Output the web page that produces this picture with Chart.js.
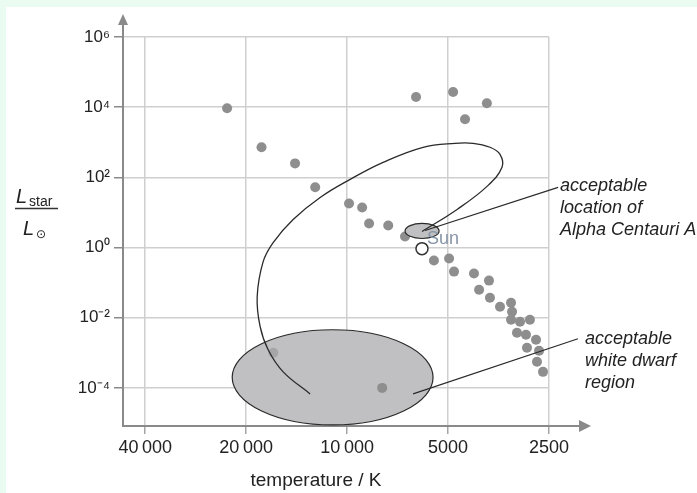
<!DOCTYPE html>
<html><head><meta charset="utf-8">
<script src="https://cdn.jsdelivr.net/npm/chart.js@4/dist/chart.umd.min.js"></script>
<style>html,body{margin:0;padding:0;background:#fff;}#wrap{width:697px;height:493px;}</style>
</head><body><div id="wrap"><canvas id="c" width="697" height="493"></canvas></div>
<script>
// ---- axis ticks ----
const xTickValues = [40000, 20000, 10000, 5000, 2500];
const xTickLabels = ['40\u2009000', '20\u2009000', '10\u2009000', '5000', '2500'];
const yTickValues = [1e-4, 1e-2, 1, 1e2, 1e4, 1e6];
const yTickLabels = ['10\u207B\u2074', '10\u207B\u00B2', '10\u2070', '10\u00B2', '10\u2074', '10\u2076'];
const xRange = [2500, 46600];
const yRange = [8.2e-6, 1e6];

// ---- stars (temperature K, luminosity / L_sun) ----
const starTemps = [22800, 18000, 14300, 12450, 9870, 6230, 4830, 3830, 4450, 9020, 8600, 7540, 6720,
  5510, 4965, 4800, 4185, 3775, 4040, 3750, 3500, 3245, 3222, 3245, 3050, 2850, 3115, 2928, 2733, 2908,
  2677, 2715, 2605, 7860];
const starLums = [9300, 720, 250, 52, 18, 19400, 27000, 13000, 4550, 13.9, 4.85, 4.26, 2.06,
  0.425, 0.485, 0.206, 0.181, 0.114, 0.063, 0.037, 0.0206, 0.0268, 0.0148, 0.00877, 0.00769, 0.00877,
  0.00372, 0.00327, 0.00235, 0.00139, 0.00114, 0.000553, 0.000286, 0.0001];
const obscuredTemps = [16600];
const obscuredLums = [0.001];
const sunTemp = [5980];
const sunLum = [0.93];

// ---- evolutionary track ----
const trackTemps = [5977, 4700, 3826, 3452, 3500, 3748, 4212, 4766, 5936, 7811, 9796, 12035, 14487,
  16620, 17800, 18545, 18170, 17200, 15512, 12893];
const trackLums = [2.87, 12.2, 55.3, 193, 454, 720, 936, 936, 720, 268, 87.7, 26.8, 6.31,
  1.39, 0.398, 0.0398, 0.00553, 0.00122, 0.000286, 0.0000674];

// ---- regions (temperature range, luminosity range) ----
const alphaCenRegionT = [5318, 6717];
const alphaCenRegionL = [1.81, 4.85];
const whiteDwarfRegionT = [5543, 22015];
const whiteDwarfRegionL = [8.8e-6, 0.00454];

// ---- annotations ----
const alphaLabel = ['acceptable', 'location of', 'Alpha Centauri A'];
const alphaLeaderFrom = [2349, 51.8];
const alphaLeaderTo = [5855, 3.06];
const wdLabel = ['acceptable', 'white dwarf', 'region'];
const wdLeaderFrom = [2049, 0.00251];
const wdLeaderTo = [6358, 6.74e-5];

const FONT = '"Liberation Sans", Arial, Helvetica, sans-serif';
const TXT = '#222';

function pts(xs, ys) { return xs.map((x, i) => ({x: x, y: ys[i]})); }
function findLabel(vals, labels, v) {
  for (let i = 0; i < vals.length; i++) if (Math.abs(Math.log10(vals[i]) - Math.log10(v)) < 1e-6) return labels[i];
  return '';
}

function drawRegion(chart, T, L) {
  const xs = chart.scales.x, ys = chart.scales.y, ctx = chart.ctx;
  const x1 = xs.getPixelForValue(T[0]), x2 = xs.getPixelForValue(T[1]);
  const y1 = ys.getPixelForValue(L[0]), y2 = ys.getPixelForValue(L[1]);
  ctx.save();
  ctx.beginPath();
  ctx.ellipse((x1 + x2) / 2, (y1 + y2) / 2, Math.abs(x2 - x1) / 2, Math.abs(y2 - y1) / 2, 0, 0, Math.PI * 2);
  ctx.fillStyle = '#c0c0c2';
  ctx.fill();
  ctx.lineWidth = 1.2;
  ctx.strokeStyle = '#2a2a2a';
  ctx.stroke();
  ctx.restore();
}

function drawLeader(chart, from, to, lines, dx, dy) {
  const xs = chart.scales.x, ys = chart.scales.y, ctx = chart.ctx;
  const fx = xs.getPixelForValue(from[0]), fy = ys.getPixelForValue(from[1]);
  const tx = xs.getPixelForValue(to[0]), ty = ys.getPixelForValue(to[1]);
  ctx.save();
  ctx.beginPath();
  ctx.moveTo(fx, fy); ctx.lineTo(tx, ty);
  ctx.lineWidth = 1.2; ctx.strokeStyle = '#2a2a2a'; ctx.stroke();
  ctx.fillStyle = TXT;
  ctx.font = 'italic 18px ' + FONT;
  ctx.textAlign = 'left'; ctx.textBaseline = 'middle';
  lines.forEach((s, i) => ctx.fillText(s, fx + dx, fy + dy + i * 22));
  ctx.restore();
}

const decor = {
  id: 'decor',
  beforeDraw(chart) {
    const ctx = chart.ctx;
    ctx.save();
    ctx.fillStyle = '#eafcf1'; ctx.fillRect(0, 0, chart.width, chart.height);
    ctx.fillStyle = '#ffffff'; ctx.fillRect(6, 7, chart.width, chart.height);
    ctx.restore();
  },
  beforeDatasetsDraw(chart) {
    drawRegion(chart, whiteDwarfRegionT, whiteDwarfRegionL);
  },
  beforeDatasetDraw(chart, args) {
    if (args.index === 1) drawRegion(chart, alphaCenRegionT, alphaCenRegionL);
  },
  afterDatasetsDraw(chart) {
    const ctx = chart.ctx, xs = chart.scales.x, ys = chart.scales.y;
    drawLeader(chart, alphaLeaderFrom, alphaLeaderTo, alphaLabel, 2, -1);
    drawLeader(chart, wdLeaderFrom, wdLeaderTo, wdLabel, 7, 0);
    // Sun label
    ctx.save();
    ctx.fillStyle = '#8795a8';
    ctx.font = '18px ' + FONT;
    ctx.textAlign = 'left'; ctx.textBaseline = 'middle';
    ctx.fillText('Sun', xs.getPixelForValue(sunTemp[0]) + 5, ys.getPixelForValue(sunLum[0]) - 10);
    ctx.restore();
  },
  afterDraw(chart) {
    const ctx = chart.ctx, a = chart.chartArea;
    ctx.save();
    ctx.strokeStyle = '#8a8a8a'; ctx.fillStyle = '#8a8a8a'; ctx.lineWidth = 2;
    // x axis extension + arrow
    ctx.beginPath(); ctx.moveTo(a.right, a.bottom); ctx.lineTo(a.right + 31, a.bottom); ctx.stroke();
    ctx.beginPath(); ctx.moveTo(a.right + 30, a.bottom - 6); ctx.lineTo(a.right + 42, a.bottom); ctx.lineTo(a.right + 30, a.bottom + 6); ctx.closePath(); ctx.fill();
    // y axis extension + arrow
    ctx.beginPath(); ctx.moveTo(a.left, a.top); ctx.lineTo(a.left, a.top - 13); ctx.stroke();
    ctx.beginPath(); ctx.moveTo(a.left - 5, a.top - 12); ctx.lineTo(a.left, a.top - 23); ctx.lineTo(a.left + 5, a.top - 12); ctx.closePath(); ctx.fill();
    // x title
    ctx.fillStyle = TXT;
    ctx.font = '19px ' + FONT;
    ctx.textAlign = 'center'; ctx.textBaseline = 'middle';
    ctx.fillText('temperature / K', 316, 481);
    // y title  L_star / L_sun
    ctx.textAlign = 'left'; ctx.textBaseline = 'alphabetic';
    ctx.font = 'italic 20px ' + FONT;
    ctx.fillText('L', 16, 203);
    ctx.font = '14px ' + FONT;
    ctx.fillText('star', 29, 206);
    ctx.beginPath(); ctx.moveTo(15, 208.5); ctx.lineTo(58, 208.5);
    ctx.strokeStyle = '#333'; ctx.lineWidth = 1.3; ctx.stroke();
    ctx.font = 'italic 20px ' + FONT;
    ctx.fillText('L', 23, 235);
    ctx.font = '12px "DejaVu Sans", sans-serif';
    ctx.fillText('\u2299', 36, 238);
    ctx.restore();
  }
};

new Chart(document.getElementById('c'), {
  type: 'scatter',
  data: {
    datasets: [
      { label: 'track', data: pts(trackTemps, trackLums), showLine: true, borderColor: '#2a2a2a',
        borderWidth: 1.3, pointRadius: 0, tension: 0.4, fill: false, order: 0 },
      { label: 'Sun', data: pts(sunTemp, sunLum), pointRadius: 6, pointBackgroundColor: '#ffffff',
        pointBorderColor: '#333333', pointBorderWidth: 1.5, order: 1 },
      { label: 'stars', data: pts(starTemps, starLums), pointRadius: 5, pointBackgroundColor: '#8e8e8e',
        pointBorderWidth: 0, order: 2 },
      { label: 'obscured', data: pts(obscuredTemps, obscuredLums), pointRadius: 5,
        pointBackgroundColor: '#a6a6a8', pointBorderWidth: 0, order: 3 }
    ]
  },
  options: {
    responsive: false, animation: false, devicePixelRatio: 1,
    layout: { padding: { top: 37, right: 148, left: 0, bottom: 0 } },
    plugins: { legend: { display: false }, tooltip: { enabled: false } },
    scales: {
      x: {
        type: 'logarithmic', reverse: true, min: xRange[0], max: xRange[1],
        afterBuildTicks: s => { s.ticks = xTickValues.map(v => ({ value: v })); },
        afterFit: s => { s.height = 67; },
        ticks: { callback: v => findLabel(xTickValues, xTickLabels, v), autoSkip: false, maxRotation: 0,
                 padding: 3, color: TXT, font: { size: 18, family: FONT } },
        grid: { color: '#cfcfcf', lineWidth: 1.5, tickLength: 8, tickColor: '#a5a5a5' },
        border: { color: '#8a8a8a', width: 2 }
      },
      y: {
        type: 'logarithmic', min: yRange[0], max: yRange[1],
        afterBuildTicks: s => { s.ticks = yTickValues.map(v => ({ value: v })); },
        afterFit: s => { s.width = 123; },
        ticks: { callback: v => findLabel(yTickValues, yTickLabels, v), autoSkip: false,
                 padding: 4, color: TXT, font: { size: 17, family: FONT } },
        grid: { color: '#cfcfcf', lineWidth: 1.5, tickLength: 9, tickColor: '#8a8a8a' },
        border: { color: '#8a8a8a', width: 2 }
      }
    }
  },
  plugins: [decor]
});
</script>
</body></html>
